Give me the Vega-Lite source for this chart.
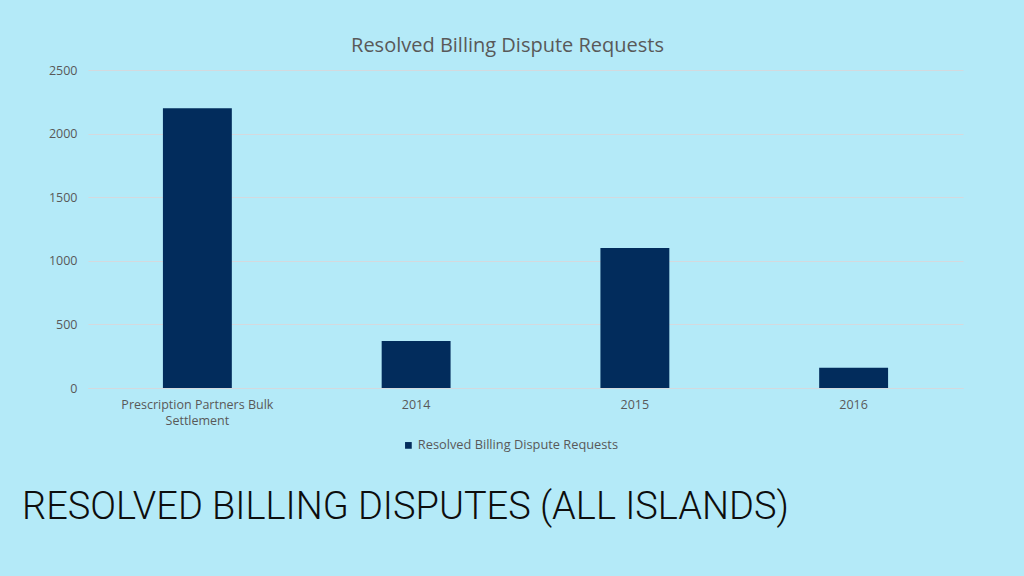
{
  "$schema": "https://vega.github.io/schema/vega-lite/v6.json",
  "width": 875,
  "height": 318,
  "autosize": {"type": "none"},
  "padding": {"left": 88, "top": 70, "right": 61, "bottom": 188},
  "background": "#b4eaf8",
  "title": {
    "text": "RESOLVED BILLING DISPUTES (ALL ISLANDS)",
    "orient": "bottom",
    "anchor": "start",
    "frame": "group",
    "dx": -66,
    "offset": 36,
    "font": "Roboto",
    "fontSize": 38,
    "fontWeight": 300,
    "color": "#0d0d0d"
  },
  "data": {
    "values": [
      {"period": "Prescription Partners Bulk Settlement", "requests": 2200, "series": "Resolved Billing Dispute Requests"},
      {"period": "2014", "requests": 370, "series": "Resolved Billing Dispute Requests"},
      {"period": "2015", "requests": 1100, "series": "Resolved Billing Dispute Requests"},
      {"period": "2016", "requests": 160, "series": "Resolved Billing Dispute Requests"}
    ]
  },
  "encoding": {
    "x": {
      "field": "period",
      "type": "nominal",
      "sort": null,
      "scale": {"paddingInner": 0.685, "paddingOuter": 0.3425}
    },
    "y": {
      "field": "requests",
      "type": "quantitative",
      "scale": {"domain": [0, 2500]}
    }
  },
  "layer": [
    {
      "mark": {"type": "bar", "color": "#022c5c"},
      "encoding": {
        "x": {
          "field": "period",
          "type": "nominal",
          "sort": null,
          "axis": {
            "title": null,
            "labelAngle": 0,
            "labelExpr": "datum.label == 'Prescription Partners Bulk Settlement' ? ['Prescription Partners Bulk', 'Settlement'] : datum.label",
            "labelPadding": 10,
            "ticks": false,
            "domainColor": "#d4d9de",
            "labelLineHeight": 16
          }
        },
        "y": {
          "field": "requests",
          "type": "quantitative",
          "axis": {
            "title": null,
            "values": [0, 500, 1000, 1500, 2000, 2500],
            "format": "d",
            "domain": false,
            "ticks": false,
            "labelPadding": 11,
            "gridColor": "#d4d9de"
          }
        },
        "color": {
          "field": "series",
          "type": "nominal",
          "scale": {"range": ["#022c5c"]},
          "legend": {
            "title": null,
            "orient": "none",
            "legendX": 314,
            "legendY": 369,
            "symbolType": "square",
            "symbolSize": 45,
            "labelLimit": 400,
            "labelOffset": 3,
            "labelFontSize": 12.8
          }
        }
      }
    },
    {
      "mark": {"type": "bar", "opacity": 0},
      "encoding": {
        "x": {
          "field": "period",
          "type": "nominal",
          "sort": null,
          "axis": {
            "orient": "top",
            "title": "Resolved Billing Dispute Requests",
            "titleX": 419,
            "titlePadding": 15,
            "labels": false,
            "ticks": false,
            "domain": false,
            "titleFont": "Open Sans",
            "titleFontSize": 20,
            "titleFontWeight": "normal",
            "titleColor": "#595959"
          }
        }
      }
    }
  ],
  "resolve": {"axis": {"x": "independent"}},
  "config": {
    "font": "Open Sans",
    "view": {"stroke": null},
    "axis": {
      "labelFont": "Open Sans",
      "labelFontSize": 12.5,
      "labelColor": "#595959",
      "gridWidth": 1
    },
    "legend": {
      "labelFont": "Open Sans",
      "labelFontSize": 12.5,
      "labelColor": "#595959"
    }
  }
}
